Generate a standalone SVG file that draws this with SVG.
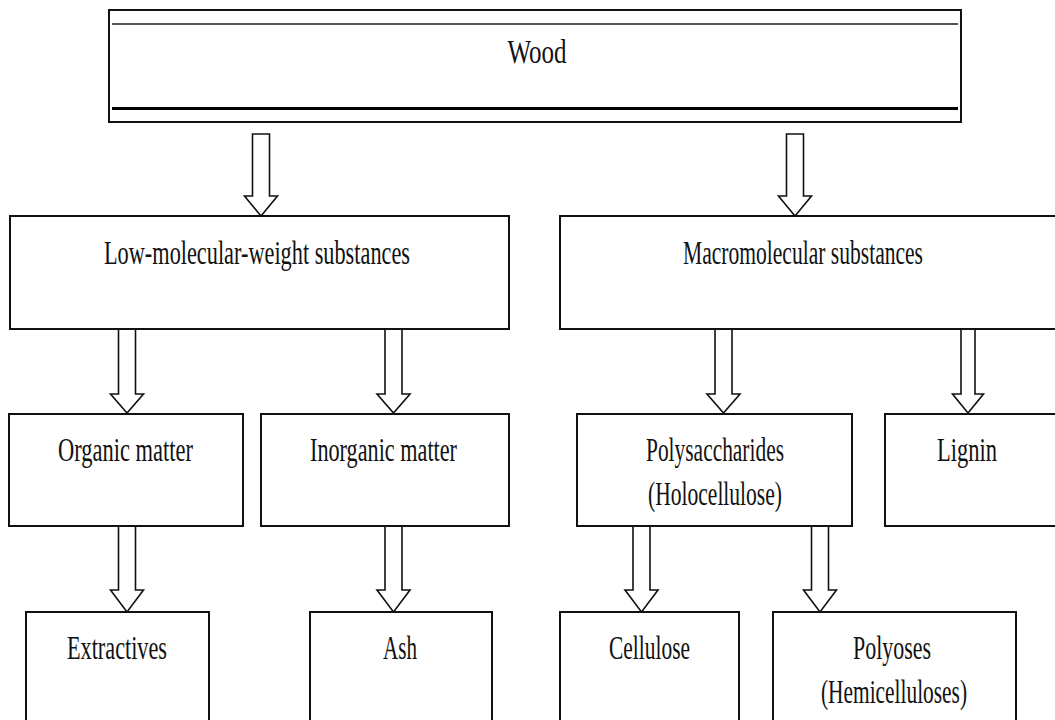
<svg xmlns="http://www.w3.org/2000/svg" width="1055" height="720" viewBox="0 0 1055 720">
<style>
.box{fill:#fff;stroke:#111;stroke-width:2}
.arr{fill:#fff;stroke:#111;stroke-width:1.6;stroke-linejoin:miter}
text{font-family:"Liberation Serif","Times New Roman",serif;font-size:34px;fill:#111;text-anchor:middle}
</style>
<rect width="1055" height="720" fill="#fff"/>
<g id="connectors">
<path class="arr" d="M252.5,134 H269.5 V196 H277.5 L261,216 L244.5,196 H252.5 Z"/>
<path class="arr" d="M786.5,134 H803.5 V196 H811.5 L795,216 L778.5,196 H786.5 Z"/>
<path class="arr" d="M118.5,329 H135.5 V394 H143.5 L127,413 L110.5,394 H118.5 Z"/>
<path class="arr" d="M385,329 H402 V394 H410 L393.5,413 L377,394 H385 Z"/>
<path class="arr" d="M715,329 H732 V394 H740 L723.5,413 L707,394 H715 Z"/>
<path class="arr" d="M961,329 H975 V394 H983.5 L968,413 L952.5,394 H961 Z"/>
<path class="arr" d="M118.5,526 H135.5 V590 H143.5 L127,612 L110.5,590 H118.5 Z"/>
<path class="arr" d="M385,526 H402 V590 H410 L393.5,612 L377,590 H385 Z"/>
<path class="arr" d="M633,526 H650 V590 H658 L641.5,612 L625,590 H633 Z"/>
<path class="arr" d="M811.5,526 H828.5 V590 H836.5 L820,612 L803.5,590 H811.5 Z"/>
</g>
<g id="wood">
<rect class="box" x="109" y="10" width="852" height="112"/>
<line x1="112" y1="24" x2="958" y2="24" stroke="#555" stroke-width="2"/>
<line x1="112" y1="108.5" x2="958" y2="108.5" stroke="#000" stroke-width="3"/>
<text x="537" y="63" textLength="59" lengthAdjust="spacingAndGlyphs">Wood</text>
</g>
<g id="low">
<rect class="box" x="10" y="216" width="499" height="113"/>
<text x="257" y="264" textLength="306" lengthAdjust="spacingAndGlyphs">Low-molecular-weight substances</text>
</g>
<g id="macro">
<rect class="box" x="560" y="216" width="510" height="113"/>
<text x="803" y="264" textLength="240" lengthAdjust="spacingAndGlyphs">Macromolecular substances</text>
</g>
<g id="organic">
<rect class="box" x="9" y="414" width="234" height="112"/>
<text x="125.5" y="461" textLength="135" lengthAdjust="spacingAndGlyphs">Organic matter</text>
</g>
<g id="inorganic">
<rect class="box" x="261" y="414" width="248" height="112"/>
<text x="383.5" y="461" textLength="147" lengthAdjust="spacingAndGlyphs">Inorganic matter</text>
</g>
<g id="polysaccharides">
<rect class="box" x="577" y="414" width="275" height="112"/>
<text x="715" y="461" textLength="138" lengthAdjust="spacingAndGlyphs">Polysaccharides</text>
<text x="715" y="505" textLength="134" lengthAdjust="spacingAndGlyphs">(Holocellulose)</text>
</g>
<g id="lignin">
<rect class="box" x="885" y="414" width="185" height="112"/>
<text x="967" y="461" textLength="60" lengthAdjust="spacingAndGlyphs">Lignin</text>
</g>
<g id="extractives">
<rect class="box" x="26" y="612" width="183" height="130"/>
<text x="117" y="659" textLength="100" lengthAdjust="spacingAndGlyphs">Extractives</text>
</g>
<g id="ash">
<rect class="box" x="310" y="612" width="182" height="130"/>
<text x="400" y="659" textLength="34" lengthAdjust="spacingAndGlyphs">Ash</text>
</g>
<g id="cellulose">
<rect class="box" x="560" y="612" width="179" height="130"/>
<text x="649.5" y="659" textLength="81" lengthAdjust="spacingAndGlyphs">Cellulose</text>
</g>
<g id="polyoses">
<rect class="box" x="773" y="612" width="243" height="130"/>
<text x="892" y="659" textLength="78" lengthAdjust="spacingAndGlyphs">Polyoses</text>
<text x="894" y="703" textLength="146" lengthAdjust="spacingAndGlyphs">(Hemicelluloses)</text>
</g>
</svg>
